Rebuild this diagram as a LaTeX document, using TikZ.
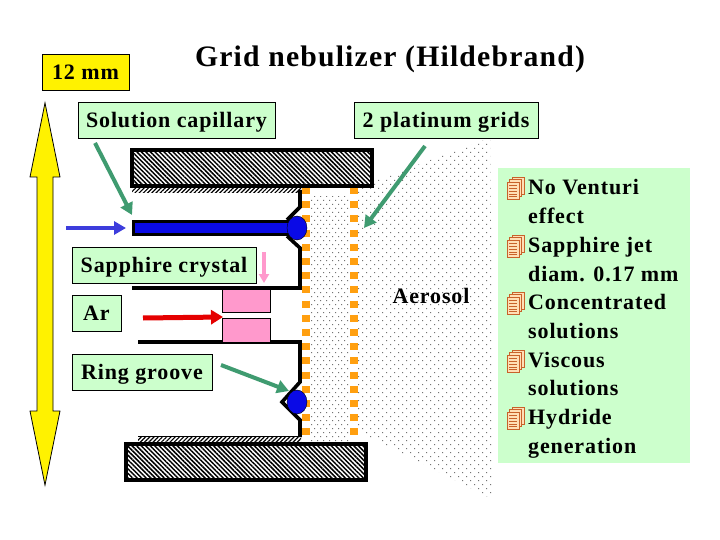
\documentclass[tikz,border=0pt]{standalone}
\usepackage{fontspec}
\usepackage{xcolor}
\setmainfont[LetterSpace=4]{Liberation Serif}
\usetikzlibrary{patterns.meta}
\usetikzlibrary{arrows.meta}
\definecolor{paleg}{HTML}{CCFFCC}
\definecolor{arrowg}{HTML}{3F9B70}
\definecolor{pinkc}{HTML}{FF99CC}
\definecolor{orangec}{HTML}{FF9F10}
\definecolor{bluec}{HTML}{0A0AE6}
\definecolor{inblue}{HTML}{3D3DDC}
\definecolor{docline}{HTML}{C8622A}
\definecolor{docfill}{HTML}{FFDFB5}
\newcommand{\docs}[1]{\foreach \s in {2,1,0}
  {\draw[draw=docline, fill=docfill, line width=.9] (#1) ++(2.5*\s,-2.5*\s-5) rectangle ++(12,17);}
  \foreach \l in {-2,1,4,7,9} {\draw[draw=docline, line width=.8] (#1) ++(2,\l) -- ++(8,0);}}
\newcommand{\dotfield}[3]{\fill[black!55] \foreach \y in {136,144,...,500} {\foreach \x in {#1,#2,...,#3}
  {(\x,\y) rectangle ++(1,1) (\x+#2/2-#1/2,\y+4) rectangle ++(1,1)}};}

\begin{document}
\begin{tikzpicture}[x=1pt,y=-1pt,
  lbl/.style={draw=black, line width=.8, fill=paleg, font=\bfseries\fontsize{22}{24}\selectfont, inner sep=0pt, text height=16, text depth=.6},
  hatch/.style={pattern={Lines[angle=-45,distance=3.2pt,line width=1.5pt]}},
  fine/.style={pattern={Lines[angle=45,distance=3pt,line width=1.2pt]}},
  wall/.style={line width=3.6, line join=miter},
  ptgrid/.style={draw=orangec, line width=8, dash pattern=on 7pt off 7.2pt},
  fat/.style={arrowg, line width=4, -{Triangle[length=12pt,width=13pt]}}]
\useasboundingbox (0,0) rectangle (720,540);
\fill[white] (0,0) rectangle (720,540);
% aerosol
\begin{scope}
\clip (358,187) -- (490,138) -- (494,500) -- (358,431) -- cycle;
\dotfield{358}{366}{494}
\end{scope}
\begin{scope}
\clip (311,197) rectangle (349,441);
\dotfield{311}{317}{349}
\end{scope}
\draw[ptgrid] (306,187) -- (306,441);
\draw[ptgrid] (354,187) -- (354,441);
% blocks
\fill[fine] (132,187) rectangle (301,193);
\fill[fine] (138,436) rectangle (301,442);
\draw[line width=4, hatch] (132,150) rectangle (372,186);
\draw[line width=4, hatch] (126,444) rectangle (366,480);
% walls
\draw[wall] (300,190) -- (300,207) -- (287,220);
\draw[wall] (287,236) -- (300,248) -- (300,288) -- (132,288);
\draw[wall] (138,342) -- (300,342) -- (300,382) -- (282,402) -- (300,420) -- (300,437);
\draw[line width=1.5] (138,436.5) -- (301,436.5);
\draw[line width=3, fill=bluec] (133.5,221.5) rectangle (292,234.5);
\fill[bluec] (297,228) ellipse (10 and 12);
\draw[line width=.4] (297,228) ellipse (10 and 12);
\fill[bluec] (297,402) ellipse (10 and 12);
\draw[line width=.4] (297,402) ellipse (10 and 12);
\draw[fill=pinkc, line width=.8] (222,289) rectangle (270.5,312);
\draw[fill=pinkc, line width=.8] (222,318) rectangle (270.5,342);
% big arrow
\draw[fill=yellow, line width=.8] (45,103) -- (60,177) -- (53,177) -- (53,411) -- (60,411) -- (45,485)
  -- (30,411) -- (37,411) -- (37,177) -- (30,177) -- cycle;
% labels
\node (title) [font=\bfseries\fontsize{29.7}{32}\selectfont] at (390,59) {Grid nebulizer (Hildebrand)};
\node (size) [lbl, fill=yellow, minimum width=87, minimum height=36] at (85.5,72) {12 mm};
\node (sol) [lbl, minimum width=197, minimum height=36] at (176.5,120) {Solution capillary};
\node (plat) [lbl, minimum width=184, minimum height=36] at (446,120) {2 platinum grids};
\node (sapph) [lbl, minimum width=184, minimum height=36] at (164,265) {Sapphire crystal};
\node (ar) [lbl, minimum width=49, minimum height=36] at (96.5,313) {Ar};
\node (ring) [lbl, minimum width=140, minimum height=36] at (142,372) {Ring groove};
\node (aerosol) [font=\bfseries\fontsize{22}{24}\selectfont] at (431,296) {Aerosol};
% connectors
\coordinate (solA) at (95,143);
\coordinate (solB) at (132,215);
\coordinate (platA) at (425,146);
\coordinate (platB) at (364,228);
\coordinate (ringA) at (221,365);
\coordinate (ringB) at (289,391);
\coordinate (inA) at (66,228);
\coordinate (inB) at (126,228);
\coordinate (pinkA) at (264,252);
\coordinate (pinkB) at (264,283);
\coordinate (gasA) at (143,318);
\coordinate (gasB) at (223,317);
\draw[fat] (solA) -- (solB);
\draw[fat] (platA) -- (platB);
\draw[fat] (ringA) -- (ringB);
\draw[inblue, line width=4.5, -{Triangle[length=12pt,width=13pt]}] (inA) -- (inB);
\draw[pinkc, line width=3.5, -{Triangle[length=9pt,width=10pt]}] (pinkA) -- (pinkB);
\draw[red!90!black, line width=5, -{Triangle[length=12pt,width=14pt]}] (gasA) -- (gasB);
% list
\node (panel) [fill=paleg, anchor=north west, inner sep=0pt, minimum width=192, minimum height=295] at (498,168) {};
\node (items) [anchor=north west, align=left, inner sep=0pt, font=\bfseries\fontsize{22}{28.7}\selectfont] at (528,179.5)
 {No Venturi\\effect\\Sapphire jet\\diam. 0.17 mm\\Concentrated\\solutions\\Viscous\\solutions\\Hydride\\generation};
\foreach \y in {187,245,302,360,417} {\coordinate (b\y) at (507,\y); \docs{b\y}}
\end{tikzpicture}
\end{document}
